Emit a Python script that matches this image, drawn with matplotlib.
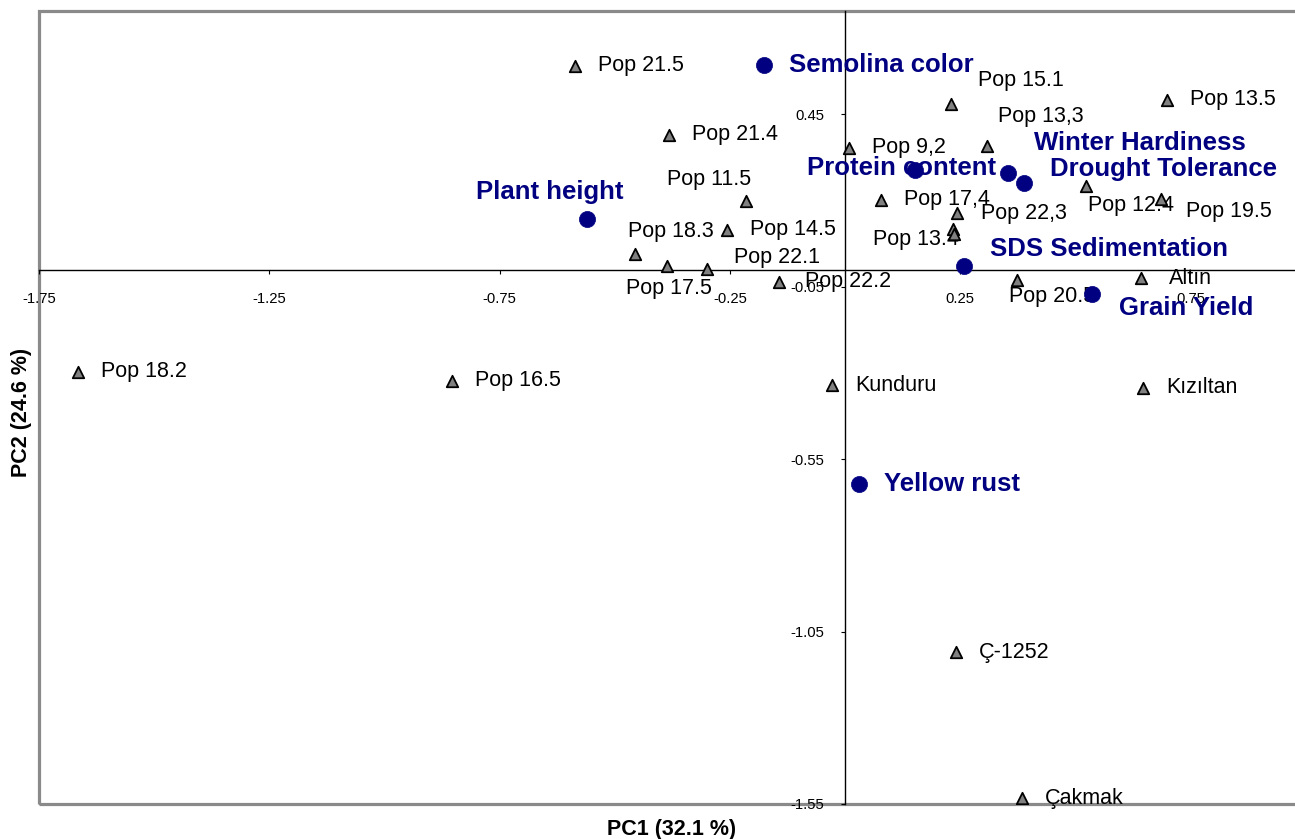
import matplotlib
matplotlib.use('Agg')
import matplotlib.pyplot as plt
from matplotlib.patches import Rectangle

plt.rcParams['font.family'] = ['Liberation Sans', 'DejaVu Sans']

# genotype scores (PC1, PC2)
geno_names = ['Pop 21.5', 'Pop 21.4', 'Pop 11.5', 'Pop 14.5', 'Pop 18.3', 'Pop 17.5',
              'Pop 22.1', 'Pop 22.2', 'Pop 9,2', 'Pop 17,4', 'Pop 15.1', 'Pop 13,3',
              'Pop 22,3', 'Pop 13.4', '', 'Pop 20.5', 'Pop 12.4', 'Pop 19.5',
              'Pop 13.5', 'Altın', 'Kızıltan', 'Kunduru', 'Pop 18.2', 'Pop 16.5',
              'Ç-1252', 'Çakmak']
geno_pc1 = [-0.586, -0.382, -0.215, -0.256, -0.456, -0.386,
            -0.300, -0.143, 0.009, 0.078, 0.230, 0.308,
            0.243, 0.234, 0.237, 0.373, 0.523, 0.686,
            0.699, 0.643, 0.647, -0.028, -1.665, -0.853,
            0.241, 0.384]
geno_pc2 = [0.591, 0.391, 0.200, 0.116, 0.046, 0.009,
            0.003, -0.035, 0.354, 0.203, 0.481, 0.359,
            0.165, 0.119, 0.104, -0.029, 0.243, 0.206,
            0.493, -0.023, -0.342, -0.336, -0.296, -0.322,
            -1.110, -1.533]

# trait vectors (PC1, PC2)
trait_names = ['Semolina color', 'Plant height', 'Protein content', 'Winter Hardiness',
               'Drought Tolerance', 'SDS Sedimentation', 'Grain Yield', 'Yellow rust']
trait_pc1 = [-0.176, -0.560, 0.152, 0.354, 0.389, 0.258, 0.536, 0.030]
trait_pc2 = [0.594, 0.148, 0.290, 0.281, 0.252, 0.009, -0.070, -0.623]

x_ticks = [-1.75, -1.25, -0.75, -0.25, 0.25, 0.75]
y_ticks = [0.45, -0.05, -0.55, -1.05, -1.55]

# label offsets in pixels (moved labels only, default is to the right)
default_off = (23, 0)
label_off = {
    'Pop 11.5': (-79, 21), 'Pop 18.3': (-7, 22), 'Pop 17.5': (-41, -22),
    'Pop 22.1': (27, 11), 'Pop 22.2': (26, 0), 'Pop 15.1': (27, 23),
    'Pop 13,3': (11, 29), 'Pop 22,3': (24, -1), 'Pop 13.4': (-80, -11),
    'Pop 20.5': (-8, -17), 'Pop 12.4': (2, -20), 'Pop 19.5': (25, -13),
    'Altın': (28, -1),
    'Plant height': (-111, 27), 'Protein content': (-108, 2),
    'Winter Hardiness': (26, 30), 'Drought Tolerance': (26, 14),
    'SDS Sedimentation': (26, 17), 'Grain Yield': (27, -14),
}

fig = plt.figure(figsize=(12.95, 8.39), dpi=100)
ax = fig.add_axes([39 / 1295, 35 / 839, 1266.6 / 1295, 793 / 839])
ax.set_xlim(-1.75, 1.0)
ax.set_ylim(-1.55, 0.75)

# axis lines crossing at the origin
for side in ['top', 'right']:
    ax.spines[side].set_visible(False)
ax.spines['left'].set_position(('data', 0))
ax.spines['bottom'].set_position(('data', 0))
ax.spines['left'].set_linewidth(1)
ax.spines['bottom'].set_linewidth(1)

# gray plot area border
ax.add_patch(Rectangle((0, 0), 1, 1, transform=ax.transAxes, fill=False,
                       ec='#8a8a8a', lw=2.3, clip_on=False, zorder=1))

ax.set_xticks(x_ticks)
ax.set_xticklabels([f'{t:.2f}' for t in x_ticks])
ax.set_yticks(y_ticks)
ax.set_yticklabels([f'{t:.2f}' for t in y_ticks])
ax.tick_params(axis='x', direction='out', length=3, width=0.8, pad=13, labelsize=10.7)
ax.tick_params(axis='y', direction='out', length=3, width=0.8, pad=12, labelsize=10.7)

ax.scatter(geno_pc1, geno_pc2, marker='^', s=68, c='#808080', edgecolors='black',
           linewidths=1.3, zorder=5)
ax.scatter(trait_pc1, trait_pc2, marker='o', s=135, c='#000080', edgecolors='#000080',
           linewidths=0.5, zorder=6)

for name, x, y in zip(geno_names, geno_pc1, geno_pc2):
    if not name:
        continue
    ax.annotate(name, (x, y), xytext=label_off.get(name, default_off),
                textcoords='offset pixels', ha='left', va='center',
                fontsize=15.5, color='black', zorder=3)

for name, x, y in zip(trait_names, trait_pc1, trait_pc2):
    ax.annotate(name, (x, y), xytext=label_off.get(name, (25, 0)),
                textcoords='offset pixels', ha='left', va='center',
                fontsize=18.5, fontweight='bold', color='#000080', zorder=3)

fig.text(672 / 1295, 1 - 829 / 839, 'PC1 (32.1 %)', ha='center', va='center',
         fontsize=15.5, fontweight='bold')
fig.text(22 / 1295, 1 - 412 / 839, 'PC2 (24.6 %)', ha='center', va='center',
         rotation=90, fontsize=15.5, fontweight='bold')

fig.savefig('out.png', dpi=100)
